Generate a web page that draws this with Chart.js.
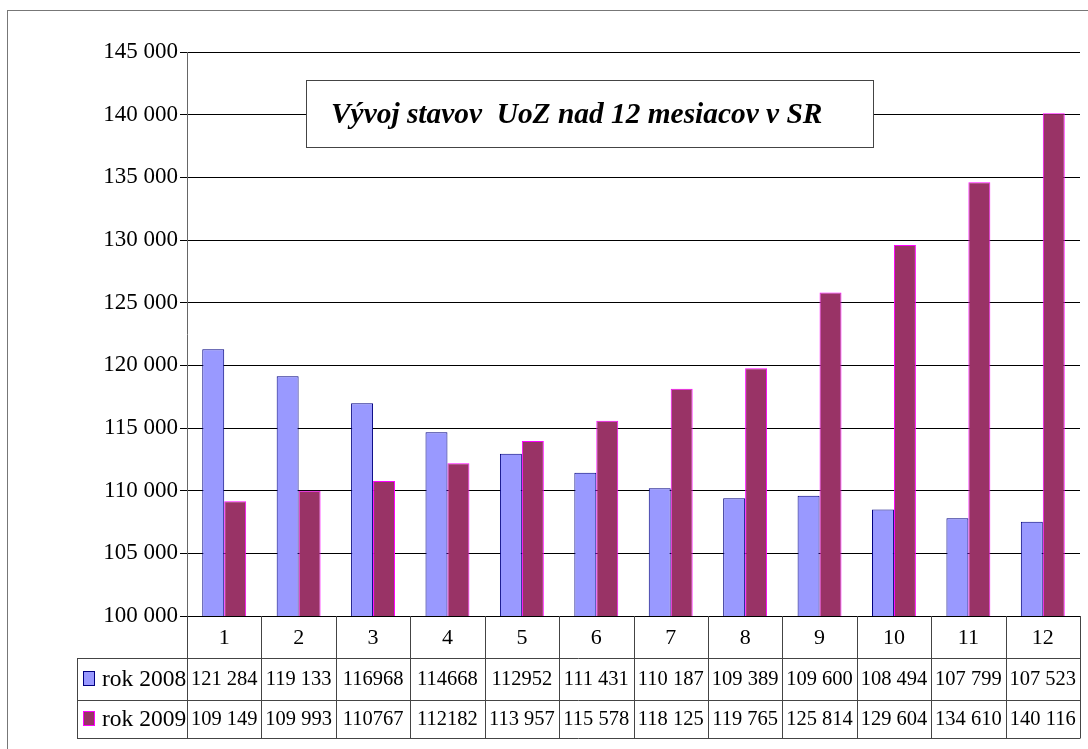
<!DOCTYPE html>
<html>
<head>
<meta charset="utf-8">
<script src="https://cdn.jsdelivr.net/npm/chart.js@4/dist/chart.umd.min.js"></script>
<style>
  html, body { margin: 0; padding: 0; background: #fff; }
  #wrap { width: 1088px; height: 749px; }
  .probe { font-family: 'Liberation Serif'; position: absolute; left: -9999px; }
</style>
</head>
<body>
<span class="probe">0 <b><i>V</i></b></span>
<div id="wrap"><canvas id="chart" width="1088" height="749"></canvas></div>
<script>
const months = ['1', '2', '3', '4', '5', '6', '7', '8', '9', '10', '11', '12'];
const seriesNames = ['rok 2008', 'rok 2009'];
const values2008 = [121284, 119133, 116968, 114668, 112952, 111431, 110187, 109389, 109600, 108494, 107799, 107523];
const values2009 = [109149, 109993, 110767, 112182, 113957, 115578, 118125, 119765, 125814, 129604, 134610, 140116];
// cells that the source table prints without a thousands gap
const plainCells2008 = [2, 3, 4];
const plainCells2009 = [2, 3];
const chartTitle = 'Vývoj stavov  UoZ nad 12 mesiacov v SR';

const serif = '"Liberation Serif", "Times New Roman", "DejaVu Serif", serif';

function spaced(v) {
  return String(v).replace(/\B(?=(\d{3})+(?!\d))/g, ' ');
}

const frame = {
  id: 'frame',
  beforeDraw(chart) {
    const { ctx } = chart;
    ctx.save();
    ctx.fillStyle = '#fff';
    ctx.fillRect(0, 0, chart.width, chart.height);
    ctx.strokeStyle = '#777';
    ctx.lineWidth = 1;
    ctx.strokeRect(7.5, 10.5, 1100, 760);
    ctx.restore();
  }
};

const dataTable = {
  id: 'dataTable',
  afterDraw(chart) {
    const { ctx, chartArea } = chart;
    const x = chart.scales.x;
    const colW = chartArea.width / months.length;
    const top = chartArea.bottom;
    const row1 = top + 42;
    const row2 = row1 + 42;
    const bottom = row2 + 38;
    const tableLeft = 77;
    ctx.save();
    ctx.strokeStyle = '#444';
    ctx.lineWidth = 1;
    ctx.beginPath();
    for (const y of [row1, row2, bottom]) {
      ctx.moveTo(tableLeft, Math.round(y) + 0.5);
      ctx.lineTo(chartArea.right, Math.round(y) + 0.5);
    }
    ctx.moveTo(tableLeft + 0.5, row1);
    ctx.lineTo(tableLeft + 0.5, bottom);
    for (let i = 0; i <= months.length; i++) {
      const cx = Math.round(chartArea.left + i * colW) + 0.5;
      ctx.moveTo(cx, top);
      ctx.lineTo(cx, bottom + 0.5);
    }
    ctx.stroke();

    ctx.fillStyle = '#000';
    ctx.textAlign = 'center';
    ctx.textBaseline = 'middle';
    ctx.font = '22px ' + serif;
    months.forEach((m, i) => {
      ctx.fillText(m, x.getPixelForValue(i), top + 22);
    });

    const rows = [
      { y: (row1 + row2) / 2, values: values2008, plain: plainCells2008, ds: chart.data.datasets[0] },
      { y: (row2 + bottom) / 2, values: values2009, plain: plainCells2009, ds: chart.data.datasets[1] }
    ];
    for (const row of rows) {
      ctx.font = '20.5px ' + serif;
      ctx.textAlign = 'center';
      row.values.forEach((v, i) => {
        const txt = row.plain.includes(i) ? String(v) : spaced(v);
        ctx.fillText(txt, x.getPixelForValue(i), row.y + 1);
      });
      ctx.fillStyle = row.ds.backgroundColor;
      ctx.fillRect(84, row.y - 7, 10, 13);
      ctx.strokeStyle = row.ds.borderColor;
      ctx.strokeRect(83.5, row.y - 7.5, 11, 14);
      ctx.fillStyle = '#000';
      ctx.textAlign = 'left';
      ctx.font = '23.5px ' + serif;
      ctx.fillText(row.ds.label, 102, row.y + 1);
    }

    // title box
    ctx.fillStyle = '#fff';
    ctx.fillRect(306, 80, 567, 67);
    ctx.strokeStyle = '#444';
    ctx.strokeRect(306.5, 80.5, 567, 67);
    ctx.fillStyle = '#000';
    ctx.textAlign = 'left';
    ctx.font = 'italic bold 29.4px ' + serif;
    ctx.fillText(chartTitle, 331, 115);
    ctx.restore();
  }
};

function draw() {
  new Chart(document.getElementById('chart'), {
    type: 'bar',
    data: {
      labels: months,
      datasets: [
        {
          label: seriesNames[0],
          data: values2008,
          backgroundColor: '#9999FF',
          borderColor: '#000080',
          borderWidth: 1,
          categoryPercentage: 0.59,
          barPercentage: 1
        },
        {
          label: seriesNames[1],
          data: values2009,
          backgroundColor: '#993366',
          borderColor: '#FF00FF',
          borderWidth: 1,
          categoryPercentage: 0.59,
          barPercentage: 1
        }
      ]
    },
    options: {
      responsive: false,
      animation: false,
      layout: { padding: { top: 52, right: 8, bottom: 133, left: 0 } },
      plugins: {
        legend: { display: false },
        title: { display: false },
        tooltip: { enabled: false }
      },
      scales: {
        x: { display: false },
        y: {
          min: 100000,
          max: 145000,
          afterFit(scale) { scale.width = 187; },
          ticks: {
            stepSize: 5000,
            padding: 2,
            color: '#000',
            font: { family: serif, size: 23 },
            callback: v => spaced(v)
          },
          grid: { color: '#000', lineWidth: 1, tickLength: 7 },
          border: { color: '#666', width: 1 }
        }
      }
    },
    plugins: [frame, dataTable]
  });
}

Promise.all([
  document.fonts.load('22px "Liberation Serif"'),
  document.fonts.load('italic bold 29px "Liberation Serif"')
]).then(draw, draw);
</script>
</body>
</html>
